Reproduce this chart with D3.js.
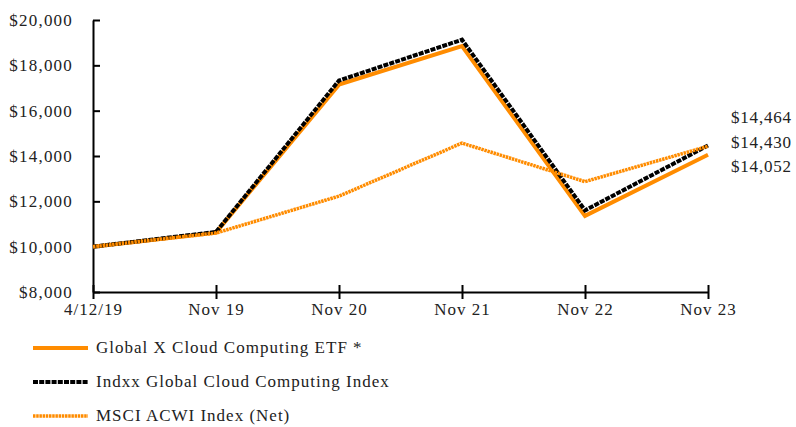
<!DOCTYPE html>
<html>
<head>
<meta charset="utf-8">
<script src="https://cdn.jsdelivr.net/npm/d3@7"></script>
<style>
  body { margin: 0; background: #fff; }
  svg text { font-family: "Liberation Serif", "Times New Roman", serif; fill: #222; }
</style>
</head>
<body>
<div id="chart"></div>
<script>
// --- data ---
var categories = ["4/12/19", "Nov 19", "Nov 20", "Nov 21", "Nov 22", "Nov 23"];
var etf = [10000, 10620, 17150, 18850, 11360, 14052];
var indxx = [10000, 10650, 17330, 19130, 11600, 14464];
var msci = [10000, 10600, 12230, 14570, 12870, 14430];
var seriesNames = ["Global X Cloud Computing ETF *", "Indxx Global Cloud Computing Index", "MSCI ACWI Index (Net)"];
var yTicks = [8000, 10000, 12000, 14000, 16000, 18000, 20000];
var endLabels = ["$14,464", "$14,430", "$14,052"];

var width = 796, height = 427;
var margin = {top: 20, right: 88, bottom: 135, left: 93};
var orange = "#ff8c00";

var svg = d3.select("#chart").append("svg")
    .attr("width", width).attr("height", height);

var x = d3.scalePoint().domain(categories).range([margin.left, width - margin.right]);
var y = d3.scaleLinear().domain([8000, 20000]).range([height - margin.bottom, margin.top]);

// y axis
var yAxis = svg.append("g")
    .attr("transform", "translate(" + margin.left + ",0)")
    .call(d3.axisLeft(y).tickValues(yTicks).tickSizeInner(7).tickSizeOuter(0)
        .tickFormat(function(d){ return "$" + d3.format(",")(d); }));
yAxis.selectAll(".tick line").attr("x2", 7).attr("stroke", "#000").attr("stroke-width", 2);
yAxis.select(".domain").attr("stroke", "#000").attr("stroke-width", 2);
yAxis.selectAll("text").attr("x", -20).style("font-size", "17px")
    .style("letter-spacing", "1.2px").attr("fill", "#222");

// x axis
var xAxis = svg.append("g")
    .attr("transform", "translate(0," + (height - margin.bottom) + ")")
    .call(d3.axisBottom(x).tickSizeInner(7).tickSizeOuter(0));
xAxis.selectAll(".tick line").attr("y1", -7).attr("y2", 7).attr("stroke", "#000").attr("stroke-width", 2);
xAxis.select(".domain").attr("stroke", "#000").attr("stroke-width", 2);
xAxis.selectAll("text").attr("y", 11).style("font-size", "17px")
    .style("letter-spacing", "1px").attr("fill", "#222");

var line = d3.line()
    .x(function(d, i){ return x(categories[i]); })
    .y(function(d){ return y(d); });

var styles = [
    {data: etf, color: orange, width: 4, dash: null},
    {data: indxx, color: "#000", width: 4, dash: "5,1.2"},
    {data: msci, color: orange, width: 3.5, dash: "2.5,0.7"}
];

styles.forEach(function(s){
    svg.append("path")
        .datum(s.data)
        .attr("d", line)
        .attr("fill", "none")
        .attr("stroke", s.color)
        .attr("stroke-width", s.width)
        .attr("stroke-dasharray", s.dash)
        .attr("stroke-linejoin", "miter");
});

// end labels
endLabels.forEach(function(t, i){
    svg.append("text")
        .attr("x", 731)
        .attr("y", 123 + i * 24.5)
        .style("font-size", "17px")
        .style("letter-spacing", "0.8px")
        .text(t);
});

// legend
styles.forEach(function(s, i){
    var ly = 348 + i * 34;
    svg.append("line")
        .attr("x1", 33).attr("x2", 88)
        .attr("y1", ly).attr("y2", ly)
        .attr("stroke", s.color)
        .attr("stroke-width", s.width)
        .attr("stroke-dasharray", s.dash);
    svg.append("text")
        .attr("x", 96).attr("y", ly + 5)
        .style("font-size", "17px")
        .style("letter-spacing", "1px")
        .text(seriesNames[i]);
});
</script>
</body>
</html>
